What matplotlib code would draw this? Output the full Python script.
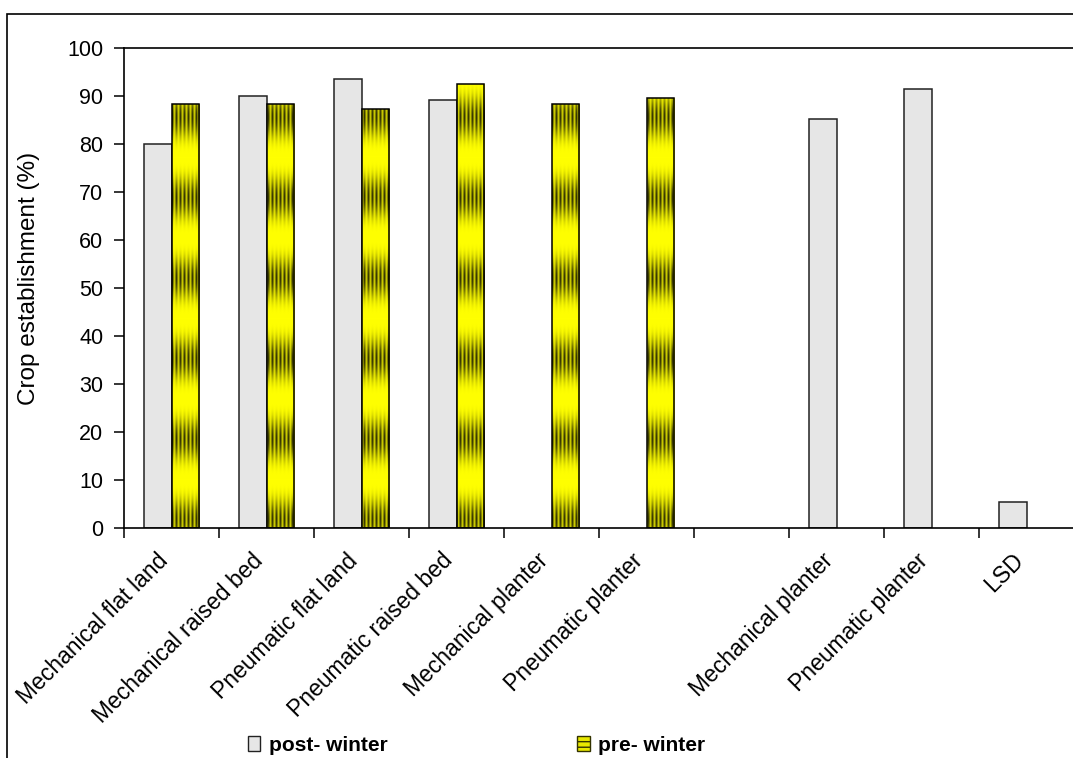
import numpy as np
import matplotlib
matplotlib.use("Agg")
import matplotlib.pyplot as plt
from matplotlib.patches import Patch, Rectangle
from matplotlib.transforms import ScaledTranslation

plt.rcParams['font.family'] = ['Liberation Sans', 'DejaVu Sans']
plt.rcParams['font.size'] = 15

# data
categories = ["Mechanical flat land", "Mechanical raised bed", "Pneumatic flat land",
              "Pneumatic raised bed", "Mechanical planter", "Pneumatic planter", "",
              "Mechanical planter", "Pneumatic planter", "LSD"]
post_winter = [80.0, 90.1, 93.6, 89.2, np.nan, np.nan, np.nan, 85.3, 91.4, 5.5]
pre_winter = [88.3, 88.3, 87.3, 92.4, 88.3, 89.5, np.nan, np.nan, np.nan, np.nan]
yticks = list(range(0, 101, 10))

W, H = 1073, 758
fig = plt.figure(figsize=(W / 100, H / 100), dpi=100)
ax = fig.add_axes([124 / W, 1 - 528 / H, 950 / W, 480 / H])

x = np.arange(len(categories)) + 0.5
bw = 0.29
post_bars = ax.bar(x - 0.145, post_winter, bw, color='#e6e6e6', edgecolor='#222222',
                   linewidth=1.1, zorder=2)
pre_bars = ax.bar(x + 0.145, pre_winter, bw, color='#ffff00', edgecolor='black',
                  linewidth=1.1, zorder=2)

# striped yellow gradient texture for pre-winter bars (pixel based)
rows, cols = 480, 950
yy = np.arange(rows)[:, None] + 48.0
xx = np.arange(cols)[None, :]
dark = (0.5 * (1 - np.cos(2 * np.pi * (yy - 157) / 80.5))) ** 1.6
stripe = 0.5 * (1 + np.cos(2 * np.pi * (xx + 1) / 4.0))
bright = 1 - dark * (0.78 * stripe + 0.22 * (1 - stripe))
tex = np.zeros((rows, cols, 3))
tex[..., 0] = bright
tex[..., 1] = bright
tex[..., 2] = 0.0
for b in pre_bars:
    if np.isnan(b.get_height()):
        continue
    im = ax.imshow(tex, extent=(0, 10, 0, 100), aspect='auto', interpolation='nearest',
                   zorder=2.5)
    im.set_clip_path(b)
    b.set_facecolor('none')
    b.set_zorder(3)

ax.set_xlim(0, 10)
ax.set_ylim(0, 100)
ax.set_yticks(yticks)
ax.set_yticklabels([str(t) for t in yticks], fontsize=15.5)
ax.set_xticks(np.arange(0, 11))
ax.set_xticklabels([])
ax.set_xticks(x, minor=True)
ax.set_xticklabels(categories, minor=True, rotation=45, ha='right', va='center',
                   rotation_mode='anchor', fontsize=16.5)
ax.tick_params(axis='x', which='minor', length=0, pad=21)
ax.tick_params(axis='x', which='major', direction='out', length=7, width=1.1)
ax.tick_params(axis='y', direction='out', length=7, width=1.1, pad=8)
shift = ScaledTranslation(-0.07, 0, fig.dpi_scale_trans)
for lab in ax.get_xticklabels(minor=True):
    lab.set_transform(lab.get_transform() + shift)
ax.set_ylabel("Crop establishment (%)", fontsize=17.5)
ax.yaxis.set_label_coords(-0.088, 0.52)

for side in ['left', 'bottom', 'top']:
    ax.spines[side].set_linewidth(1.2)
ax.spines['right'].set_visible(False)

handles = [Patch(facecolor='#e6e6e6', edgecolor='#222222', linewidth=1.0),
           Patch(facecolor='#e8e800', edgecolor='#333300', hatch='---', linewidth=1.0)]
fig.legend(handles, ["post- winter", "pre- winter"], loc='center', ncol=2,
           bbox_to_anchor=(0.444, 0.017), frameon=False, prop={'weight': 'bold', 'size': 15},
           handlelength=0.6, handleheight=0.7, handletextpad=0.4, columnspacing=9.1)

# outer chart frame
fig.patches.append(Rectangle((7 / W, -0.1), 1.2, 1 - 14 / H + 0.1, transform=fig.transFigure,
                             fill=False, edgecolor='black', linewidth=1.2))

fig.savefig("out.png", dpi=100)
